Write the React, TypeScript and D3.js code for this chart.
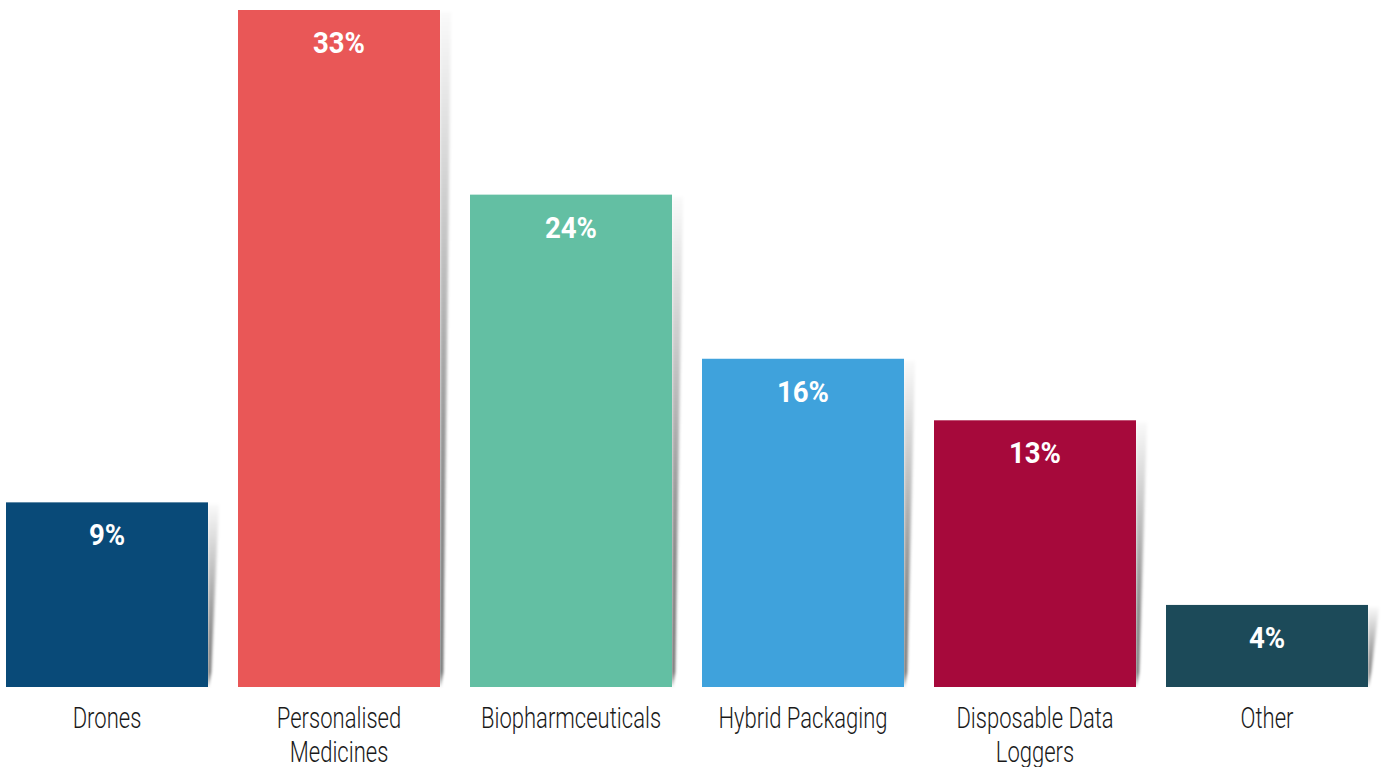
import * as React from 'react';
import {useEffect, useRef} from 'react';
import * as d3 from 'd3';

const width = 1383;
const height = 767;

const categories = ['Drones', 'Personalised Medicines', 'Biopharmceuticals', 'Hybrid Packaging', 'Disposable Data Loggers', 'Other'];
const labelLines = [['Drones'], ['Personalised', 'Medicines'], ['Biopharmceuticals'], ['Hybrid Packaging'], ['Disposable Data', 'Loggers'], ['Other']];
const shares = [9, 33, 24, 16, 13, 4];
const colors = ['#094a78', '#e95757', '#63bfa3', '#3fa2dc', '#a6093b', '#1c4a59'];

const fontFamily = 'Roboto, "DejaVu Sans", sans-serif';
// the source face is a very narrow one; squeeze Roboto horizontally to match
const labelSqueeze = 0.76;
const valueSqueeze = 0.92;

const App = () => {
  const ref = useRef<SVGSVGElement>(null);

  useEffect(() => {
    const svg = d3.select(ref.current);
    svg.selectAll('*').remove();

    const x = d3.scaleBand<string>()
      .domain(categories)
      .range([-9, 1383])
      .paddingInner(30 / 232)
      .paddingOuter(15 / 232);

    const y = d3.scaleLinear().domain([0, 33]).range([687, 10]);
    const cx = (i: number) => x(categories[i])! + x.bandwidth() / 2;

    const defs = svg.append('defs');
    const grad = defs.append('linearGradient')
      .attr('id', 'shadow-grad')
      .attr('x1', 0).attr('y1', 0).attr('x2', 0).attr('y2', 1);
    grad.append('stop').attr('offset', '0%').attr('stop-color', '#000').attr('stop-opacity', 0.02);
    grad.append('stop').attr('offset', '85%').attr('stop-color', '#000').attr('stop-opacity', 0.55);
    grad.append('stop').attr('offset', '100%').attr('stop-color', '#000').attr('stop-opacity', 0.7);
    defs.append('filter').attr('id', 'shadow-blur')
      .attr('x', '-50%').attr('width', '200%')
      .append('feGaussianBlur').attr('stdDeviation', 1.6);

    const g = svg.selectAll('g.bar')
      .data(shares)
      .join('g')
      .attr('class', 'bar');

    // wedge shadow on the right side of each bar
    g.append('path')
      .attr('fill', 'url(#shadow-grad)')
      .attr('filter', 'url(#shadow-blur)')
      .attr('d', (d, i) => {
        const x1 = x(categories[i])! + x.bandwidth();
        const top = y(d);
        const bottom = y(0);
        return `M${x1},${top + 2}L${x1 + 11},${top + 2}L${x1 + 3},${bottom - 15}L${x1},${bottom}Z`;
      });

    g.append('rect')
      .attr('x', (d, i) => x(categories[i])!)
      .attr('y', d => y(d))
      .attr('width', x.bandwidth())
      .attr('height', d => y(0) - y(d))
      .attr('fill', (d, i) => colors[i]);

    g.append('text')
      .attr('transform', (d, i) => `translate(${cx(i)},${y(d) + 43}) scale(${valueSqueeze},1)`)
      .attr('text-anchor', 'middle')
      .attr('fill', '#fff')
      .style('font-family', fontFamily)
      .style('font-weight', 700)
      .style('font-size', '30px')
      .text(d => `${d}%`);

    const label = g.append('text')
      .attr('transform', (d, i) => `translate(${cx(i)},728) scale(${labelSqueeze},1)`)
      .attr('text-anchor', 'middle')
      .attr('fill', '#1a1a1a')
      .style('font-family', fontFamily)
      .style('font-weight', 300)
      .style('font-size', '29px');

    label.selectAll('tspan')
      .data((d, i) => labelLines[i])
      .join('tspan')
      .attr('x', 0)
      .attr('y', (d, j) => j * 34)
      .text(d => d);
  }, []);

  return (
    <svg ref={ref} width={width} height={height}
      style={{position: 'absolute', left: 0, top: 0, background: '#fff'}} />
  );
};

export default App;
